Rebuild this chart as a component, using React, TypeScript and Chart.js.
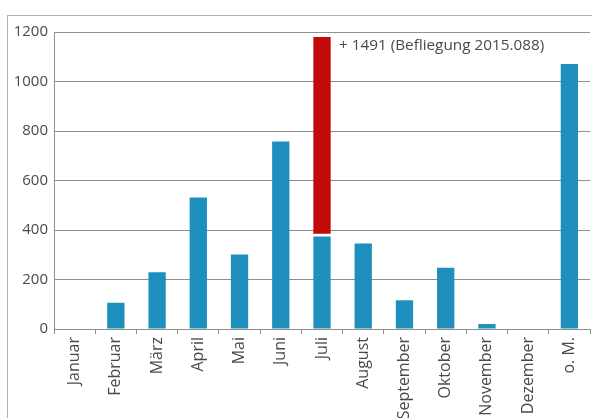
import React, { useEffect, useRef } from "react";
import { Chart, registerables } from "chart.js";

Chart.register(...registerables);

const categories = ["Januar", "Februar", "März", "April", "Mai", "Juni", "Juli", "August", "September", "Oktober", "November", "Dezember", "o. M."];
const blueValues = [0, 106, 229, 531, 301, 758, 374, 345, 116, 247, 20, 0, 1071];
const redRange: ([number, number] | null)[] = [null, null, null, null, null, null, [385, 1180], null, null, null, null, null, null];
const annotationText = "+ 1491 (Befliegung 2015.088)";
const yTicks = [0, 200, 400, 600, 800, 1000, 1200];

const FONT = "'Open Sans', 'Noto Sans', sans-serif";

export default function App() {
  const ref = useRef<HTMLCanvasElement | null>(null);
  useEffect(() => {
    if (!ref.current) return;
    const annot = {
      id: "annot",
      afterDatasetsDraw(chart: any) {
        const meta = chart.getDatasetMeta(1);
        const idx = redRange.findIndex((v) => v !== null);
        const el = meta.data[idx];
        if (!el) return;
        const ctx = chart.ctx;
        const y = chart.scales.y.getPixelForValue(1145);
        ctx.save();
        ctx.font = `15.3px ${FONT}`;
        ctx.fillStyle = "#4a4a4a";
        ctx.textBaseline = "middle";
        ctx.textAlign = "left";
        ctx.fillText(annotationText, el.x + 17, y);
        ctx.restore();
      },
    };
    const chart = new Chart(ref.current, {
      type: "bar",
      data: {
        labels: categories,
        datasets: [
          {
            data: blueValues,
            backgroundColor: "#1f8fbd",
            barPercentage: 0.42,
            categoryPercentage: 1,
          },
          {
            data: redRange as any,
            backgroundColor: "#c20a0a",
            barPercentage: 0.42,
            categoryPercentage: 1,
          },
        ],
      },
      options: {
        animation: false,
        responsive: false,
        layout: { padding: { top: 32, right: 2, left: 0, bottom: 0 } },
        plugins: { legend: { display: false }, tooltip: { enabled: false } },
        scales: {
          x: {
            stacked: true,
            grid: {
              display: true,
              drawOnChartArea: false,
              drawTicks: true,
              tickLength: 5,
              color: "#8f8f8f",
              offset: true,
            },
            border: { display: true, color: "#8f8f8f" },
            ticks: {
              minRotation: 90,
              maxRotation: 90,
              autoSkip: false,
              color: "#4a4a4a",
              font: { family: FONT, size: 16 },
              padding: 3,
            },
            afterFit: (s: any) => {
              s.height = 89;
            },
          },
          y: {
            stacked: false,
            min: 0,
            max: 1200,
            afterBuildTicks: (s: any) => {
              s.ticks = yTicks.map((v) => ({ value: v }));
            },
            grid: { color: "#8f8f8f", drawTicks: false },
            border: { display: true, color: "#8f8f8f" },
            ticks: {
              color: "#4a4a4a",
              font: { family: FONT, size: 15 },
              padding: 6,
              callback: (v: any) => String(v),
            },
            afterFit: (s: any) => {
              s.width = 54;
            },
          },
        },
      },
      plugins: [annot],
    });
    return () => chart.destroy();
  }, []);
  return (
    <div style={{ position: "fixed", left: 0, top: 0, width: 592, height: 418, background: "#fff" }}>
      <div
        style={{
          position: "absolute",
          left: 7,
          top: 15,
          width: 600,
          height: 420,
          borderTop: "1px solid #b0b0b0",
          borderLeft: "1px solid #b0b0b0",
        }}
      />
      <canvas ref={ref} width={592} height={418} style={{ position: "absolute", left: 0, top: 0 }} />
    </div>
  );
}
